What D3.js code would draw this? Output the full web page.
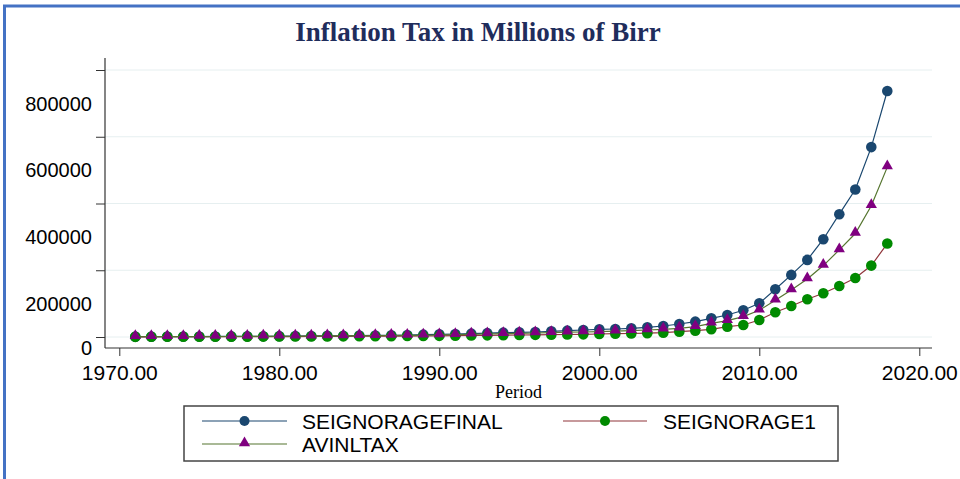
<!DOCTYPE html>
<html>
<head>
<meta charset="utf-8">
<script src="https://cdn.jsdelivr.net/npm/d3@7"></script>
<style>
  body { margin: 0; background: #fff; }
  svg { display: block; }
  .tick text { font-family: "Liberation Sans", Arial, sans-serif; fill: #000; }
</style>
</head>
<body>
<script>
//data
var years = d3.range(1971, 2019); //1971 .. 2018

var seignorageFinal = [
    1000, 1100, 1200, 1300, 1400, 1600, 1800, 2000, 2200, 2500,
    2800, 3100, 3400, 3800, 4200, 4700, 5300, 6000, 7000, 8000,
    9000, 10000, 11500, 13000, 14000, 15000, 17000, 19000, 21000, 23000,
    24000, 26000, 29000, 33000, 39000, 46000, 56000, 66000, 80000, 101000,
    143000, 186000, 231000, 293000, 368000, 442000, 569000, 737000
];
var seignorage1 = [
    500, 600, 700, 750, 800, 900, 1000, 1100, 1200, 1300,
    1400, 1600, 1800, 2000, 2200, 2400, 2600, 2800, 3000, 3500,
    4000, 4500, 5000, 5500, 6000, 6500, 7000, 7500, 8000, 9000,
    10000, 10500, 11500, 13000, 16000, 19000, 23000, 31000, 36000, 51000,
    74000, 93000, 113000, 131000, 153000, 177000, 214000, 280000
];
var avinltax = [
    800, 900, 1000, 1100, 1200, 1300, 1500, 1700, 1900, 2100,
    2300, 2600, 2900, 3200, 3500, 3900, 4300, 4700, 5000, 6000,
    7000, 8000, 9000, 10000, 11000, 12000, 13000, 14500, 15000, 16000,
    17500, 19000, 21000, 23000, 26000, 31000, 41000, 49000, 61000, 80000,
    110000, 141000, 174000, 214000, 261000, 310000, 393000, 509000
];

var yTicks = [0, 200000, 400000, 600000, 800000];
var xTicks = [1970, 1980, 1990, 2000, 2010, 2020];

var series = [
    { name: "SEIGNORAGEFINAL", values: seignorageFinal, line: "#1a476f", marker: "#1a476f", shape: "circle" },
    { name: "SEIGNORAGE1", values: seignorage1, line: "#90353b", marker: "#008a00", shape: "circle" },
    { name: "AVINLTAX", values: avinltax, line: "#55752f", marker: "#800080", shape: "triangle" }
];

var w = 960, h = 479;
var svg = d3.select("body").append("svg")
    .attr("width", w)
    .attr("height", h)
    .style("background", "#fff");

//blue frame, top and left only
svg.append("line").attr("x1", 3).attr("x2", w).attr("y1", 6).attr("y2", 6)
    .attr("stroke", "#4472c4").attr("stroke-width", 3);
svg.append("line").attr("x1", 4.5).attr("x2", 4.5).attr("y1", 5).attr("y2", h)
    .attr("stroke", "#4472c4").attr("stroke-width", 3);

//title
svg.append("text")
    .attr("x", 478).attr("y", 41)
    .attr("text-anchor", "middle")
    .style("font-family", "'Liberation Serif', 'Times New Roman', serif")
    .style("font-weight", "bold")
    .style("font-size", "27px")
    .style("fill", "#1f2d5c")
    .text("Inflation Tax in Millions of Birr");

var plotLeft = 105, plotRight = 932, axisY = 348;

var x = d3.scaleLinear().domain([1970, 2020]).range([119.3, 919.3]);
var y = d3.scaleLinear().domain([0, 800000]).range([337, 70]);

//grid lines
svg.selectAll(".grid")
    .data(yTicks)
    .enter()
    .append("line")
    .attr("class", "grid")
    .attr("x1", plotLeft).attr("x2", plotRight)
    .attr("y1", function(d){ return y(d); })
    .attr("y2", function(d){ return y(d); })
    .attr("stroke", "#e6eff0")
    .attr("stroke-width", 1);

//y axis ticks (labels are drawn half a step lower, as in the picture)
var yAxis = d3.axisLeft(y).tickValues(yTicks).tickSize(9).tickSizeOuter(0).tickFormat("");
var gy = svg.append("g").attr("transform", "translate(" + plotLeft + ",0)").call(yAxis);
gy.select(".domain").remove();
gy.selectAll(".tick line").attr("stroke", "#333");

var halfStep = (y(0) - y(200000)) / 2;
svg.selectAll(".ylab")
    .data(yTicks)
    .enter()
    .append("text")
    .attr("class", "ylab")
    .attr("x", 92)
    .attr("y", function(d){ return Math.min(y(d) + halfStep, axisY); })
    .attr("dy", "0.36em")
    .attr("text-anchor", "end")
    .style("font-family", "'Liberation Sans', Arial, sans-serif")
    .style("font-size", "20px")
    .text(function(d){ return d; });

//x axis
var xAxis = d3.axisBottom(x).tickValues(xTicks).tickSize(8).tickSizeOuter(0)
    .tickPadding(9).tickFormat(d3.format(".2f"));
var gx = svg.append("g").attr("transform", "translate(0," + axisY + ")").call(xAxis);
gx.select(".domain").remove();
gx.selectAll(".tick line").attr("stroke", "#333");
gx.selectAll(".tick text").style("font-size", "21px");

//axis lines
svg.append("line").attr("x1", plotLeft).attr("x2", plotLeft).attr("y1", 58).attr("y2", axisY)
    .attr("stroke", "#333").attr("stroke-width", 1.2);
svg.append("line").attr("x1", plotLeft).attr("x2", plotRight).attr("y1", axisY).attr("y2", axisY)
    .attr("stroke", "#333").attr("stroke-width", 1.2);

svg.append("text")
    .attr("x", (plotLeft + plotRight) / 2).attr("y", 398)
    .attr("text-anchor", "middle")
    .style("font-family", "'Liberation Serif', 'Times New Roman', serif")
    .style("font-size", "18px")
    .text("Period");

//lines and markers
var line = d3.line()
    .x(function(d){ return x(d.year); })
    .y(function(d){ return y(d.value); });

var triangle = d3.symbol().type(d3.symbolTriangle).size(55);

series.forEach(function(s){
    var pts = years.map(function(yr, i){ return { year: yr, value: s.values[i] }; });
    var g = svg.append("g");
    g.append("path")
        .datum(pts)
        .attr("d", line)
        .attr("fill", "none")
        .attr("stroke", s.line)
        .attr("stroke-width", 1.2);
    if (s.shape === "circle") {
        g.selectAll("circle")
            .data(pts)
            .enter()
            .append("circle")
            .attr("cx", function(d){ return x(d.year); })
            .attr("cy", function(d){ return y(d.value); })
            .attr("r", 5.3)
            .attr("fill", s.marker);
    } else {
        g.selectAll("path.mk")
            .data(pts)
            .enter()
            .append("path")
            .attr("class", "mk")
            .attr("d", triangle)
            .attr("transform", function(d){ return "translate(" + x(d.year) + "," + (y(d.value) - 1) + ")"; })
            .attr("fill", s.marker);
    }
});

//legend
var legend = svg.append("g");
legend.append("rect")
    .attr("x", 184).attr("y", 406)
    .attr("width", 654).attr("height", 55)
    .attr("fill", "#fff")
    .attr("stroke", "#444")
    .attr("stroke-width", 1.5);

var legendPos = [
    { x0: 202, x1: 287, ty: 421, tx: 302 },
    { x0: 563, x1: 647, ty: 421, tx: 663 },
    { x0: 202, x1: 287, ty: 444, tx: 302 }
];

series.forEach(function(s, i){
    var p = legendPos[i];
    var mx = (p.x0 + p.x1) / 2;
    legend.append("line")
        .attr("x1", p.x0).attr("x2", p.x1)
        .attr("y1", p.ty).attr("y2", p.ty)
        .attr("stroke", s.line).attr("stroke-width", 1.2);
    if (s.shape === "circle") {
        legend.append("circle").attr("cx", mx).attr("cy", p.ty).attr("r", 5).attr("fill", s.marker);
    } else {
        legend.append("path").attr("d", triangle)
            .attr("transform", "translate(" + mx + "," + (p.ty - 1) + ")")
            .attr("fill", s.marker);
    }
    legend.append("text")
        .attr("x", p.tx).attr("y", p.ty)
        .attr("dy", "0.36em")
        .style("font-family", "'Liberation Sans', Arial, sans-serif")
        .style("font-size", "21px")
        .text(s.name);
});
</script>
</body>
</html>
